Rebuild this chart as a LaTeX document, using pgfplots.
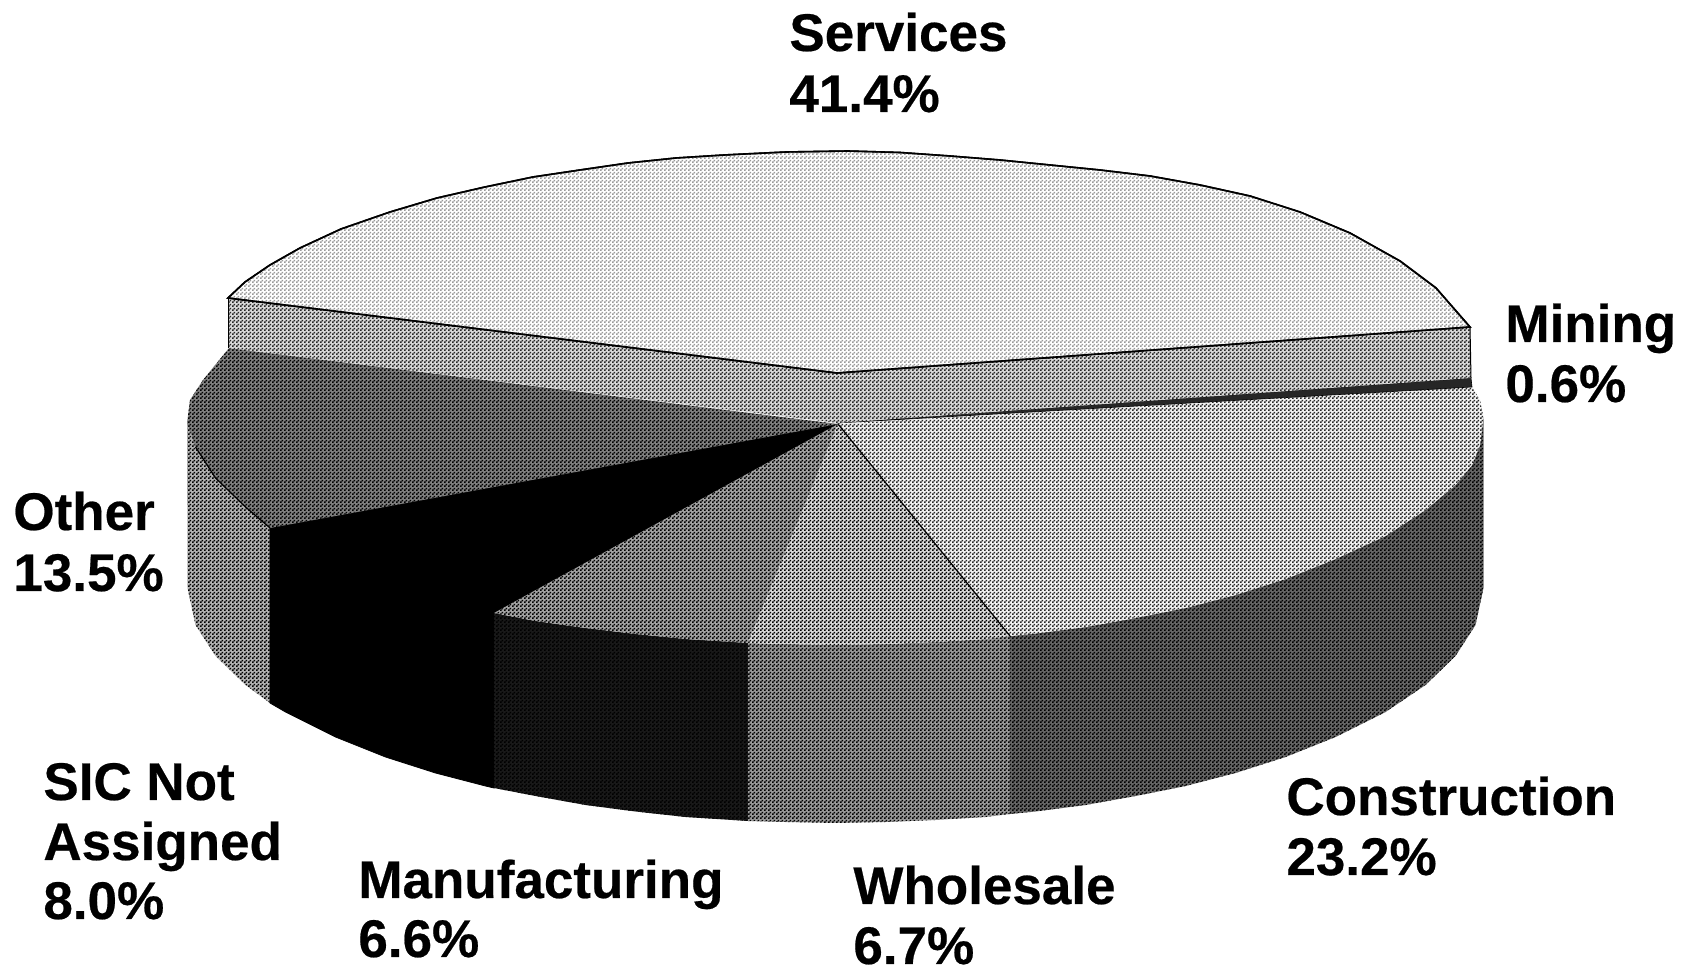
\documentclass[border=0pt]{standalone}
\usepackage{pgfplots}
\pgfplotsset{compat=1.18}
\usepackage{fontspec}
\setmainfont[BoldFeatures={FakeBold=0.4}]{Liberation Sans}
\usetikzlibrary{patterns}
\pgfdeclarepatternformonly{ht}{\pgfqpoint{0pt}{0pt}}{\pgfqpoint{2pt}{2pt}}{\pgfqpoint{2pt}{2pt}}{%
  \pgfpathrectangle{\pgfqpoint{0pt}{0pt}}{\pgfqpoint{1pt}{1pt}}%
  \pgfpathrectangle{\pgfqpoint{1pt}{1pt}}{\pgfqpoint{1pt}{1pt}}%
  \pgfusepath{fill}}
\tikzset{
  ht/.style 2 args={fill=black!#1,postaction={pattern=ht,pattern color=black!#2},draw=black,line width=0.4pt},
  lab/.style={anchor=base west,inner sep=0pt,font=\fontsize{26.5}{26.5}\selectfont\bfseries}
}
\begin{document}
\begin{tikzpicture}
\begin{axis}[
  width=844pt,height=483.5pt,scale only axis,hide axis,
  xmin=0,xmax=1688,ymin=0,ymax=967,y dir=reverse,clip=false,no markers]
% page
\addplot[fill=white,draw=none,forget plot] coordinates {(0,0)(1688,0)(1688,967)(0,967)} -- cycle;
% Other, side
\addplot[ht={30}{100},draw=none,forget plot] coordinates {(187,423)(195.5,447)(215.5,478)(245.5,507)(270,528)(270,703)(245.5,685)(215.5,656)(195.5,625)(187.5,588)} -- cycle;
% SIC Not Assigned, side and top
\addplot[fill=black,draw=black,forget plot] coordinates {(838,424)(270,528)(270,703)(285.5,712)(335.5,737)(385.5,757)(435.5,773)(485.5,786)(494,788)(494,613)} -- cycle;
% Manufacturing, side
\addplot[ht={90}{100},draw=none,forget plot] coordinates {(494,613)(535.5,621)(585.5,628)(635.5,634)(685.5,639)(748,643)(748,821)(685.5,817)(635.5,811.5)(585.5,805)(535.5,796)(494,788)} -- cycle;
% Wholesale, side
\addplot[ht={40}{100},draw=none,forget plot] coordinates {(748,643)(785.5,644)(835.5,645)(885.5,644)(935.5,642)(985.5,639)(1010,636)(1010,814)(985.5,817)(935.5,820)(885.5,822)(835.5,823)(785.5,822)(748,821)} -- cycle;
% Construction, side
\addplot[ht={60}{100},draw=none,forget plot] coordinates {(1483.5,417)(1480,445)(1472,465)(1455.5,485)(1425.5,510)(1385.5,536)(1335.5,559)(1285.5,579)(1235.5,595)(1185.5,608)(1135.5,618)(1085.5,627)(1035.5,633.5)(1010,636)(1010,814)(1035.5,811.5)(1085.5,805)(1135.5,796)(1185.5,786)(1235.5,773)(1285.5,757)(1335.5,737)(1385.5,712)(1425.5,685)(1455.5,656)(1475.5,625)(1483.5,588)} -- cycle;
% Other, top
\addplot[ht={50}{100},draw=none,forget plot] coordinates {(838,424)(229,348)(203,380)(190,400)(187,423)(195.5,447)(215.5,478)(245.5,507)(270,528)} -- cycle;
\addplot[black,line width=0.6pt,forget plot] coordinates {(195.5,447)(215.5,478)(245.5,507)(270,528)};
% Manufacturing, top
\addplot[ht={36}{100},draw=none,forget plot] coordinates {(838,424)(494,613)(535.5,621)(585.5,628)(635.5,634)(685.5,639)(748,643)} -- cycle;
% Wholesale, top
\addplot[ht={15}{100},draw=none,forget plot] coordinates {(838,424)(748,643)(785.5,644)(835.5,645)(885.5,644)(935.5,642)(985.5,639)(1010,636)} -- cycle;
% Construction, top
\addplot[ht={5}{85},draw=none,forget plot] coordinates {(838,424)(1472,387)(1480,400)(1483.5,417)(1480,445)(1472,465)(1455.5,485)(1425.5,510)(1385.5,536)(1335.5,559)(1285.5,579)(1235.5,595)(1185.5,608)(1135.5,618)(1085.5,627)(1035.5,633.5)(1010,636)} -- cycle;
\addplot[black,line width=0.6pt,forget plot] coordinates {(838,424)(1010,636)};
% Mining sliver
\addplot[fill=black!85,draw=black,line width=0.3pt,forget plot] coordinates {(838,423)(1471,378)(1472,387)} -- cycle;
% Services, rim
\addplot[ht={15}{85},draw=none,forget plot] coordinates {(228,298)(837,373)(1470,327)(1471,378)(838,423)(228,348)} -- cycle;
\addplot[black,line width=0.5pt,forget plot] coordinates {(228,348)(228,298)};
\addplot[black,line width=0.5pt,forget plot] coordinates {(1470,327)(1471,378)};
% Services, top
\addplot[ht={0}{40},line width=0.8pt,forget plot] coordinates {(228,298)(245,282)(270,265)(300,248)(341,229)(390,212)(437,198)(485,187)(533,177)(580,170)(628,163)(676,158)(724,155)(786,152)(848,151)(900,152.5)(950,156)(1000,160)(1050,165)(1100,170)(1150,176)(1200,185)(1250,196)(1300,212)(1350,233)(1400,261)(1436,288)(1470,327)(837,373)} -- cycle;
% labels
\node[lab] at (axis cs:789,51) {Services};
\node[lab] at (axis cs:789,112) {41.4\%};
\node[lab] at (axis cs:1505,342) {Mining};
\node[lab] at (axis cs:1505,402) {0.6\%};
\node[lab] at (axis cs:13,530) {Other};
\node[lab] at (axis cs:13,591) {13.5\%};
\node[lab] at (axis cs:43,800) {SIC Not};
\node[lab] at (axis cs:43,860) {Assigned};
\node[lab] at (axis cs:43,919) {8.0\%};
\node[lab] at (axis cs:358,898) {Manufacturing};
\node[lab] at (axis cs:358,957) {6.6\%};
\node[lab] at (axis cs:853,904) {Wholesale};
\node[lab] at (axis cs:853,964) {6.7\%};
\node[lab] at (axis cs:1286,815) {Construction};
\node[lab] at (axis cs:1286,875) {23.2\%};
\end{axis}
\end{tikzpicture}
\end{document}
